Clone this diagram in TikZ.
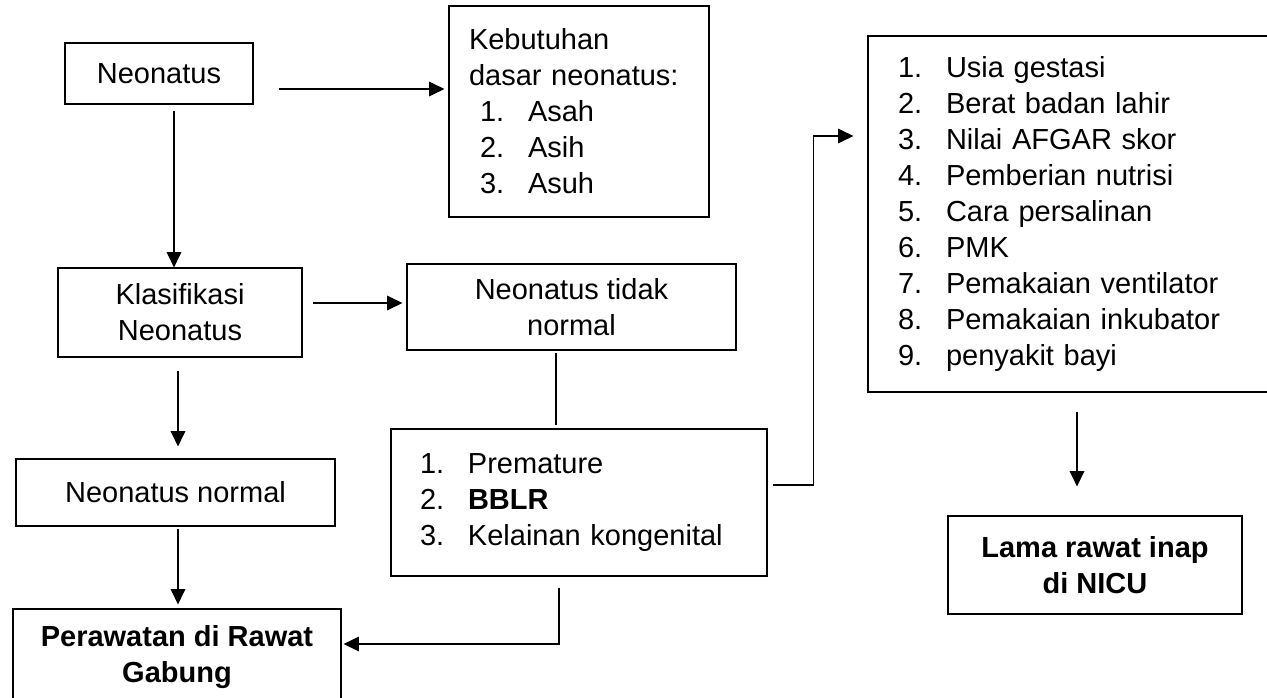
\documentclass[tikz,border=0pt]{standalone}
\usepackage{fontspec}
\setmainfont{Liberation Sans}
\usetikzlibrary{arrows.meta,calc}

\newcommand{\numitem}[2]{\makebox[36pt][l]{#1.}#2}

\tikzset{
  box/.style={draw, line width=0.9pt, inner sep=0pt, align=center,
    font=\fontsize{21.75}{27}\selectfont},
  listbox/.style={box, align=left},
  arr/.style={line width=0.9pt, -{Triangle[length=11.5pt,width=11pt]}},
  link/.style={line width=0.9pt},
}

\begin{document}
\begin{tikzpicture}[x=0.75pt,y=0.75pt,yscale=-1,xscale=1]
\clip (0,0) rectangle (1267,697);

%Shape: Rectangle [neonatus]
\node (neo) [box, minimum width=141pt, minimum height=45.75pt] at (159,73.5) {Neonatus};
%Shape: Rectangle [kebutuhan]
\node (kebut) [listbox, minimum width=195pt, minimum height=158.25pt, text width=165pt, inner xsep=15pt] at (579,111.5)
  {Kebutuhan\\ dasar neonatus:\\
   \hspace*{8.25pt}\numitem{1}{Asah}\\
   \hspace*{8.25pt}\numitem{2}{Asih}\\
   \hspace*{8.25pt}\numitem{3}{Asuh}};
%Shape: Rectangle [klasifikasi]
\node (klas) [box, minimum width=183pt, minimum height=66.75pt] at (180,312.5) {Klasifikasi\\ Neonatus};
%Shape: Rectangle [tidak normal]
\node (tidak) [box, minimum width=246.75pt, minimum height=64.5pt] at (571.5,307) {Neonatus tidak\\ normal};
%Shape: Rectangle [normal]
\node (normal) [box, minimum width=239.25pt, minimum height=50.25pt] at (175.5,492.5) {Neonatus normal};
%Shape: Rectangle [jenis]
\node (prem) [listbox, minimum width=282pt, minimum height=110.25pt, text width=238.5pt, inner xsep=21.75pt] at (579,502.5)
  {\numitem{1}{Premature}\\
   \numitem{2}{\textbf{BBLR}}\\
   \numitem{3}{Kelainan kongenital}};
%Shape: Rectangle [rawat gabung]
\node (rawat) [box, font=\fontsize{21.75}{27}\selectfont\bfseries, minimum width=246pt, minimum height=72pt] at (177,657) {Perawatan di Rawat\\ Gabung};
%Shape: Rectangle [faktor]
\node (faktor) [listbox, minimum width=312.75pt, minimum height=267pt, text width=267.75pt, inner xsep=22.5pt] at (1076.5,214)
  {\numitem{1}{Usia gestasi}\\
   \numitem{2}{Berat badan lahir}\\
   \numitem{3}{Nilai AFGAR skor}\\
   \numitem{4}{Pemberian nutrisi}\\
   \numitem{5}{Cara persalinan}\\
   \numitem{6}{PMK}\\
   \numitem{7}{Pemakaian ventilator}\\
   \numitem{8}{Pemakaian inkubator}\\
   \numitem{9}{penyakit bayi}};
%Shape: Rectangle [lama rawat]
\node (lama) [box, font=\fontsize{21.75}{27}\selectfont\bfseries, minimum width=220.5pt, minimum height=73.5pt] at (1095,565) {Lama rawat inap\\ di NICU};

% Connectors
\draw [arr, shorten >=3pt] ($(neo.east)+(25,15.5)$) coordinate (c1) -- (c1 -| kebut.west);
\draw [arr] ($(neo.south)+(15,6)$) coordinate (c2) -- (c2 |- klas.north);
\draw [arr, shorten >=3pt] ($(klas.east)+(10,-9.5)$) coordinate (c3) -- (c3 -| tidak.west);
\draw [arr, shorten >=9pt] ($(klas.south)+(-2,13)$) coordinate (c4) -- (c4 |- normal.north);
\draw [arr, shorten >=3pt] ($(normal.south)+(2.5,2)$) coordinate (c5) -- (c5 |- rawat.north);
\draw [link, shorten >=2.25pt] ($(tidak.south)+(-15.5,2)$) coordinate (c6) -- (c6 |- prem.north);
\draw [arr, shorten >=1.5pt] ($(prem.south)+(-20,11)$) |- ($(rawat.east)+(0,-13)$);
\draw [arr, shorten >=10.5pt] ($(prem.east)+(5,-17.5)$) -- ++(41,0) |- ($(faktor.west)+(0,-78)$);
\draw [arr, shorten >=21.75pt] ($(faktor.south)+(0.5,19)$) coordinate (c9) -- (c9 |- lama.north);

\end{tikzpicture}
\end{document}
